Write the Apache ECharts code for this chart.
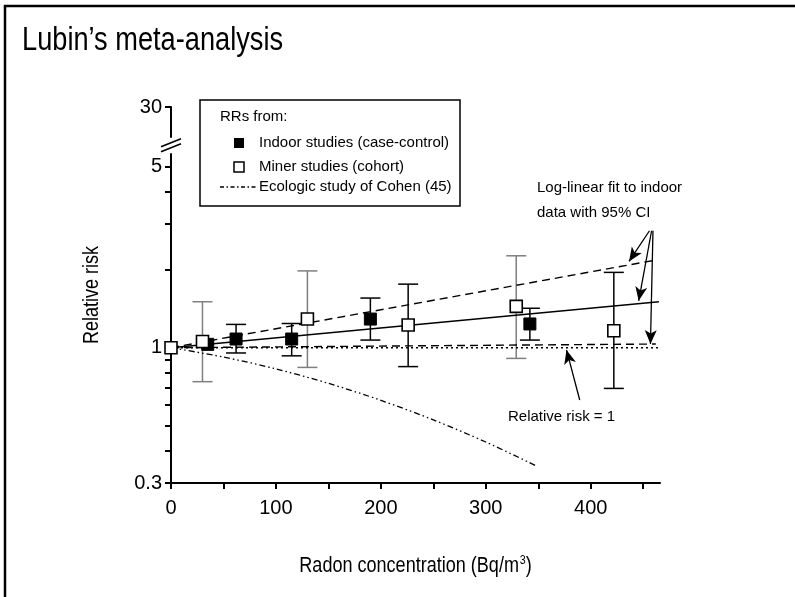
<!DOCTYPE html>
<html><head><meta charset="utf-8">
<script src="https://cdn.jsdelivr.net/npm/echarts@6/dist/echarts.min.js"></script>
<style>html,body{margin:0;padding:0;background:#fff}#c{width:795px;height:597px}</style>
</head><body><div id="c"></div>
<script>
// ---------- data ----------
const titleText = 'Lubin\u2019s meta-analysis';
const xAxisTitle = 'Radon concentration (Bq/m{sup|3})';
const yAxisTitle = 'Relative risk';
const xLabelStep = 100;
const yLabelValues = [0.3, 1, 5, 30];
const yTickValues = [0.3, 0.4, 0.5, 0.6, 0.7, 0.8, 0.9, 1, 2, 3, 4, 5, 30];
const yBreak = [5.6, 23.1];

const indoorX    = [35, 62, 115, 190, 342];
const indoorRR   = [1.03, 1.08, 1.08, 1.29, 1.235];
const indoorLow  = [null, 0.954, 0.93, 1.07, 1.07];
const indoorHigh = [null, 1.23, 1.24, 1.555, 1.42];

const minerX    = [0, 30, 130, 226, 329, 422];
const minerRR   = [1, 1.057, 1.29, 1.224, 1.444, 1.163];
const minerLow  = [null, 0.739, 0.839, 0.845, 0.909, 0.696];
const minerHigh = [null, 1.505, 1.98, 1.76, 2.265, 1.954];

const fitX = [0, 465],   fitRR = [1, 1.505];
const upperX = [0, 462], upperRR = [1, 2.18];
const lowerX = [0, 462], lowerRR = [1, 1.033];
const refX = [0, 465],   refRR = [1, 1];
const cohenX  = [0, 50, 100, 150, 200, 250, 300, 347];
const cohenRR = [1, 0.92, 0.828, 0.728, 0.626, 0.526, 0.432, 0.351];

// annotation arrows: [fromX, fromRR, toX, toRR]
const arrowFit = [[456, 2.83, 436.5, 2.154], [458, 2.83, 445.7, 1.518], [459.3, 2.83, 456.9, 1.033]];
const arrowRef = [[389.5, 0.628, 376.9, 0.98]];

const legendNames = ['Indoor studies (case-control)', 'Miner studies (cohort)', 'Ecologic study of Cohen (45)'];
const legendHeader = 'RRs from:';
const noteFit = ['Log-linear fit to indoor', 'data with 95% CI'];
const noteRef = 'Relative risk = 1';

// ---------- helpers ----------
const zip = (a, b) => a.map((v, i) => [v, b[i]]);
const bars = (x, lo, hi) => x.map((v, i) => [v, lo[i], hi[i]]).filter(d => d[1] != null);
const greyMinerBars = [30, 130, 329];
const FONT = 'Liberation Sans, Arial, sans-serif';

function errorBarSeries(data, greyXs) {
  return {
    type: 'custom', z: 2, silent: true,
    data: data,
    encode: { x: 0, y: [1, 2] },
    renderItem: function (params, api) {
      const x = api.value(0);
      const lo = api.coord([x, api.value(1)]);
      const hi = api.coord([x, api.value(2)]);
      const w = 10;
      const col = greyXs.indexOf(x) >= 0 ? '#7f7f7f' : '#000';
      const st = { stroke: col, lineWidth: 1.5 };
      return { type: 'group', children: [
        { type: 'line', shape: { x1: lo[0], y1: lo[1], x2: hi[0], y2: hi[1] }, style: st },
        { type: 'line', shape: { x1: lo[0] - w, y1: lo[1], x2: lo[0] + w, y2: lo[1] }, style: st },
        { type: 'line', shape: { x1: hi[0] - w, y1: hi[1], x2: hi[0] + w, y2: hi[1] }, style: st }
      ]};
    }
  };
}

function lineSeries(x, y, type, extra) {
  return Object.assign({
    type: 'line', data: zip(x, y), showSymbol: false, symbol: 'none', silent: true, z: 2,
    lineStyle: { color: '#000', width: 1.4, type: type }
  }, extra || {});
}

const arrowLines = arrowFit.concat(arrowRef).map(a => [{ coord: [a[0], a[1]] }, { coord: [a[2], a[3]] }]);

const chart = echarts.init(document.getElementById('c'), null, { renderer: 'canvas' });
const option = {
  animation: false,
  backgroundColor: '#fff',
  textStyle: { fontFamily: FONT },
  grid: { left: 171, right: 135, top: 107, bottom: 114, containLabel: false },
  xAxis: {
    type: 'value', min: 0, max: 466, interval: 50,
    axisLine: { show: true, onZero: false, lineStyle: { color: '#000', width: 2 } },
    axisTick: { show: true, length: 6, lineStyle: { color: '#000', width: 2 } },
    axisLabel: { fontSize: 20, color: '#000', margin: 15, showMaxLabel: false,
      formatter: v => (v % xLabelStep === 0 ? String(v) : '') },
    splitLine: { show: false }
  },
  yAxis: {
    type: 'log', logBase: 10, min: 0.3, max: 30,
    breaks: [{ start: yBreak[0], end: yBreak[1], gap: '4.7%' }],
    breakArea: { show: true, expandOnClick: false, zigzagAmplitude: 0,
      itemStyle: { color: 'rgba(0,0,0,0)', borderColor: 'rgba(0,0,0,0)', borderWidth: 0 } },
    axisLine: { show: true, onZero: false, lineStyle: { color: '#000', width: 2 } },
    axisTick: { show: true, length: 6, customValues: yTickValues, lineStyle: { color: '#000', width: 2 } },
    axisLabel: { fontSize: 20, color: '#000', margin: 9, customValues: yLabelValues,
      formatter: v => String(Math.round(v * 10) / 10) },
    splitLine: { show: false }, minorTick: { show: false }
  },
  series: [
    lineSeries(refX, refRR, [2, 3]),
    lineSeries(lowerX, lowerRR, [8, 5]),
    lineSeries(upperX, upperRR, [8, 5]),
    lineSeries(cohenX, cohenRR, null, { smooth: 0.3, lineStyle: { color: '#000', width: 1.3, type: [6, 3, 1.5, 3, 1.5, 3] } }),
    lineSeries(fitX, fitRR, 'solid', {
      markLine: {
        silent: true, symbol: ['none', 'arrow'], symbolSize: [9, 14], precision: 6,
        label: { show: false },
        lineStyle: { color: '#000', width: 1.3, type: 'solid' },
        data: arrowLines
      }
    }),
    errorBarSeries(bars(indoorX, indoorLow, indoorHigh), []),
    errorBarSeries(bars(minerX, minerLow, minerHigh), greyMinerBars),
    { type: 'scatter', name: legendNames[0], data: zip(indoorX, indoorRR), symbol: 'rect', symbolSize: 12, z: 4, silent: true,
      itemStyle: { color: '#000', borderColor: '#000', borderWidth: 1, opacity: 1 } },
    { type: 'scatter', name: legendNames[1], data: zip(minerX, minerRR), symbol: 'rect', symbolSize: 12, z: 5, silent: true,
      itemStyle: { color: '#fff', borderColor: '#000', borderWidth: 1.6, opacity: 1 } }
  ]
};
chart.setOption(option);

// ---------- decorations: frame, titles, legend box, notes, axis-break marks ----------
let by = 145;
try {
  const p1 = chart.convertToPixel({ yAxisIndex: 0 }, yBreak[0]);
  const p2 = chart.convertToPixel({ yAxisIndex: 0 }, yBreak[1]);
  if (isFinite(p1) && isFinite(p2)) by = (p1 + p2) / 2;
} catch (e) {}
const ax = chart.convertToPixel({ xAxisIndex: 0 }, 0);
const grid = chart.getModel().getComponent('grid').coordinateSystem.getRect();

const txt = (x, y, s, z) => ({ type: 'text', x: x, y: y, silent: true, z: z || 1,
  style: { text: s, fill: '#000', font: '15px ' + FONT, textVerticalAlign: 'middle', textAlign: 'left' } });

chart.setOption({
  graphic: [
    { type: 'polyline', silent: true, shape: { points: [[5, 597], [5, 6], [795, 6]] }, style: { stroke: '#000', lineWidth: 2.5, fill: null } },
    // titles (condensed sans)
    { type: 'text', silent: true, x: 22, y: 41, scaleX: 0.8,
      style: { text: titleText, fill: '#000', font: '34px ' + FONT, textAlign: 'left', textVerticalAlign: 'middle' } },
    { type: 'text', silent: true, x: grid.x + grid.width / 2, y: 566, scaleX: 0.82,
      style: { text: xAxisTitle, fill: '#000', font: '22px ' + FONT, align: 'center', verticalAlign: 'middle',
        rich: { sup: { fontSize: 13, fontFamily: FONT, verticalAlign: 'top', padding: [0, 0, 12, 1] } } } },
    { type: 'text', silent: true, x: 92, y: grid.y + grid.height / 2, scaleX: 0.82, rotation: Math.PI / 2,
      style: { text: yAxisTitle, fill: '#000', font: '22px ' + FONT, align: 'center', verticalAlign: 'middle' } },
    // legend box
    { type: 'rect', silent: true, z: 10, shape: { x: 200, y: 100, width: 260, height: 106 }, style: { fill: '#fff', stroke: '#000', lineWidth: 1.5 } },
    txt(220, 117, legendHeader, 11),
    { type: 'rect', silent: true, z: 11, shape: { x: 234, y: 138, width: 10, height: 10 }, style: { fill: '#000' } },
    txt(259, 143, legendNames[0], 11),
    { type: 'rect', silent: true, z: 11, shape: { x: 234, y: 162, width: 10, height: 10 }, style: { fill: '#fff', stroke: '#000', lineWidth: 1.5 } },
    txt(259, 167, legendNames[1], 11),
    { type: 'line', silent: true, z: 11, shape: { x1: 220, y1: 187, x2: 257, y2: 187 }, style: { stroke: '#000', lineWidth: 1.3, lineDash: [4, 2.5, 1.5, 2.5] } },
    txt(259, 187, legendNames[2], 11),
    // notes
    txt(537, 188, noteFit[0]),
    txt(537, 213, noteFit[1]),
    txt(508, 417, noteRef),
    // axis break marks
    { type: 'polygon', silent: true, z: 20, shape: { points: [[ax - 10, by + 6.5], [ax + 10, by - 1.5], [ax + 10, by - 6.5], [ax - 10, by + 1.5]] }, style: { fill: '#fff' } },
    { type: 'line', silent: true, z: 21, shape: { x1: ax - 10, y1: by + 6.5, x2: ax + 10, y2: by - 1.5 }, style: { stroke: '#000', lineWidth: 1.8 } },
    { type: 'line', silent: true, z: 21, shape: { x1: ax - 10, y1: by + 1.5, x2: ax + 10, y2: by - 6.5 }, style: { stroke: '#000', lineWidth: 1.8 } }
  ]
});
</script>
</body></html>
